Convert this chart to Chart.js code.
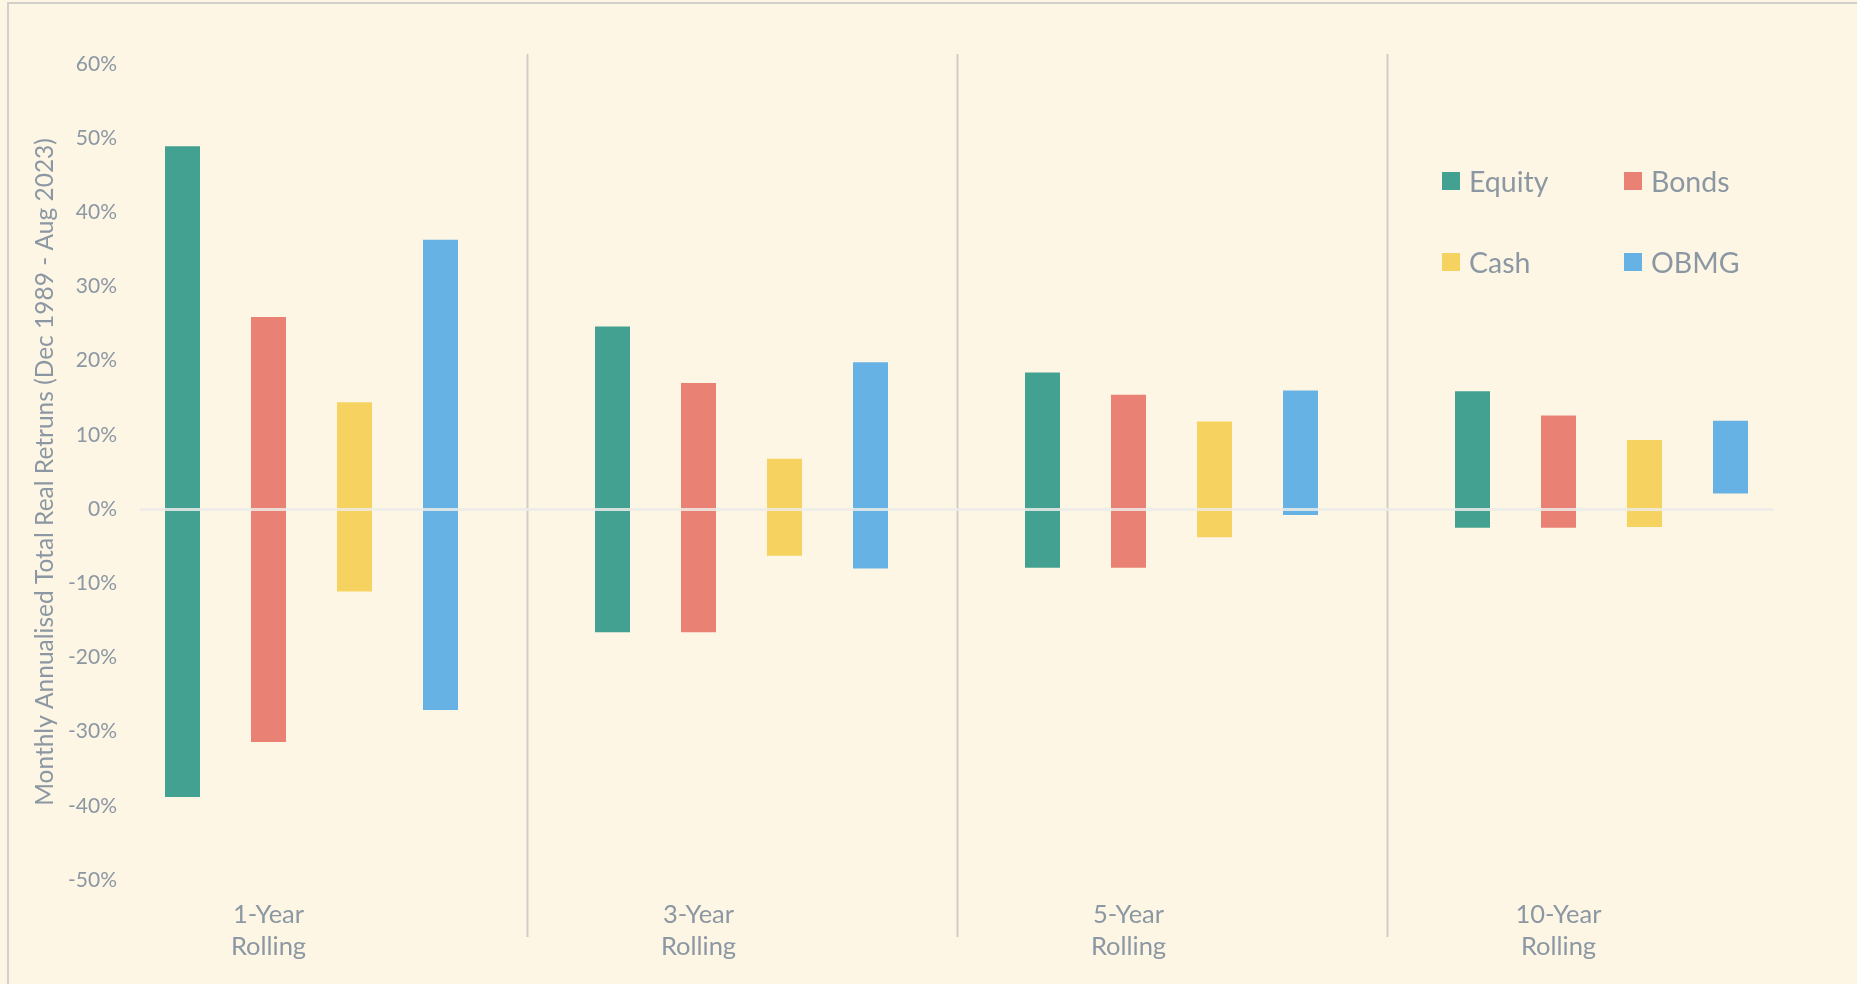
<!DOCTYPE html>
<html>
<head>
<meta charset="utf-8">
<script src="https://cdn.jsdelivr.net/npm/chart.js@4.4.1/dist/chart.umd.min.js"></script>
<style>
html,body{margin:0;padding:0;background:#FEF6E4;}
#wrap{position:relative;width:1857px;height:984px;overflow:hidden;background:#FEF6E4;}
#frame{position:absolute;left:7px;top:2px;width:1900px;height:1100px;border-left:2px solid #D3D0CB;border-top:2px solid #D3D0CB;box-sizing:border-box;pointer-events:none;}
canvas{position:absolute;left:0;top:0;}
#legend{position:absolute;left:1442px;top:162px;display:grid;grid-template-columns:182px 182px;grid-auto-rows:81px;font-family:Lato,sans-serif;font-size:28.5px;color:#8B97A3;}
.item{display:flex;align-items:center;height:38px;line-height:38px;white-space:nowrap;}
.sw{width:18px;height:18px;margin-right:9px;flex:none;}
</style>
</head>
<body>
<div id="wrap">
  <canvas id="c" width="1857" height="984"></canvas>
  <div id="frame"></div>
  <div id="legend"></div>
</div>
<script>
// ---- Data (percent) ----
const categories = ['1-Year Rolling', '3-Year Rolling', '5-Year Rolling', '10-Year Rolling'];
const seriesNames = ['Equity', 'Bonds', 'Cash', 'OBMG'];
const equityLow  = [-38.8, -16.6, -7.9, -2.5];
const equityHigh = [ 48.9,  24.6, 18.4, 15.9];
const bondsLow   = [-31.4, -16.6, -7.9, -2.5];
const bondsHigh  = [ 25.9,  17.0, 15.4, 12.6];
const cashLow    = [-11.1,  -6.3, -3.8, -2.4];
const cashHigh   = [ 14.4,   6.8, 11.8,  9.3];
const obmgLow    = [-27.1,  -8.0, -0.8,  2.1];
const obmgHigh   = [ 36.3,  19.8, 16.0, 11.9];
const yMin = -50, yMax = 60, yStep = 10;
const colors = ['#43A192', '#E98174', '#F6D360', '#66B2E4'];
const yTitle = 'Monthly Annualised Total Real Retruns (Dec 1989 - Aug 2023)';

// ---- Build slot layout: 4 bars per category + 1 spacer slot between categories ----
const lows = [equityLow, bondsLow, cashLow, obmgLow];
const highs = [equityHigh, bondsHigh, cashHigh, obmgHigh];
const nSeries = seriesNames.length;
const per = nSeries + 1;
const nSlots = categories.length * per - 1;
const slotLabels = [];
for (let i = 0; i < nSlots; i++) {
  const g = Math.floor(i / per), k = i % per;
  if (k === 1) {
    const parts = categories[g].split(' ');
    slotLabels.push([parts[0], parts.slice(1).join(' ')]);
  } else slotLabels.push('');
}
const datasets = seriesNames.map((name, s) => {
  const data = new Array(nSlots).fill(null);
  categories.forEach((c, g) => { data[g * per + s] = [lows[s][g], highs[s][g]]; });
  return { label: name, data, backgroundColor: colors[s], borderWidth: 0,
           grouped: false, categoryPercentage: 1, barPercentage: 0.407 };
});
const separatorSlots = [];
for (let g = 0; g < categories.length - 1; g++) separatorSlots.push(g * per + nSeries);

const textColor = '#8B97A3';
const font = 'Lato';

const separators = {
  id: 'separators',
  beforeDatasetsDraw(chart) {
    const {ctx, chartArea, scales: {x}} = chart;
    ctx.save();
    ctx.strokeStyle = '#CFCCC7';
    ctx.lineWidth = 2;
    separatorSlots.forEach(v => {
      const px = Math.round(x.getPixelForValue(v)) + 0.5;
      ctx.beginPath();
      ctx.moveTo(px, chartArea.top - 10);
      ctx.lineTo(px, chartArea.bottom + 57);
      ctx.stroke();
    });
    ctx.restore();
  }
};

new Chart(document.getElementById('c'), {
  type: 'bar',
  data: { labels: slotLabels, datasets },
  plugins: [separators],
  options: {
    responsive: false,
    animation: false,
    devicePixelRatio: 1,
    layout: { padding: { left: 0, top: 64, right: 83.5, bottom: 0 } },
    plugins: { legend: { display: false }, tooltip: { enabled: false } },
    scales: {
      x: {
        grid: { display: false, drawTicks: false },
        border: { display: false },
        ticks: {
          autoSkip: false, maxRotation: 0, minRotation: 0, padding: 19,
          color: textColor, font: { family: font, size: 25.5, lineHeight: 32 / 25.5 }
        },
        afterFit(scale) { scale.height = 104; }
      },
      y: {
        min: yMin, max: yMax,
        grid: {
          drawTicks: false, z: 1, lineWidth: 3,
          color: ctx => (ctx.tick && ctx.tick.value === 0) ? 'rgba(236,235,232,0.85)' : 'rgba(0,0,0,0)'
        },
        border: { display: false },
        ticks: {
          stepSize: yStep, padding: 22.5, color: textColor,
          font: { family: font, size: 21 },
          callback: v => v + '%'
        },
        title: {
          display: true, text: yTitle, color: textColor,
          font: { family: font, size: 24.5, lineHeight: 1.2 },
          padding: { top: 30.3, bottom: 0 }
        },
        afterFit(scale) { scale.width = 139.5; }
      }
    }
  }
});

// HTML legend from the same series
const leg = document.getElementById('legend');
seriesNames.forEach((n, i) => {
  const d = document.createElement('div');
  d.className = 'item';
  d.innerHTML = '<span class="sw" style="background:' + colors[i] + '"></span><span>' + n + '</span>';
  leg.appendChild(d);
});
</script>
</body>
</html>
